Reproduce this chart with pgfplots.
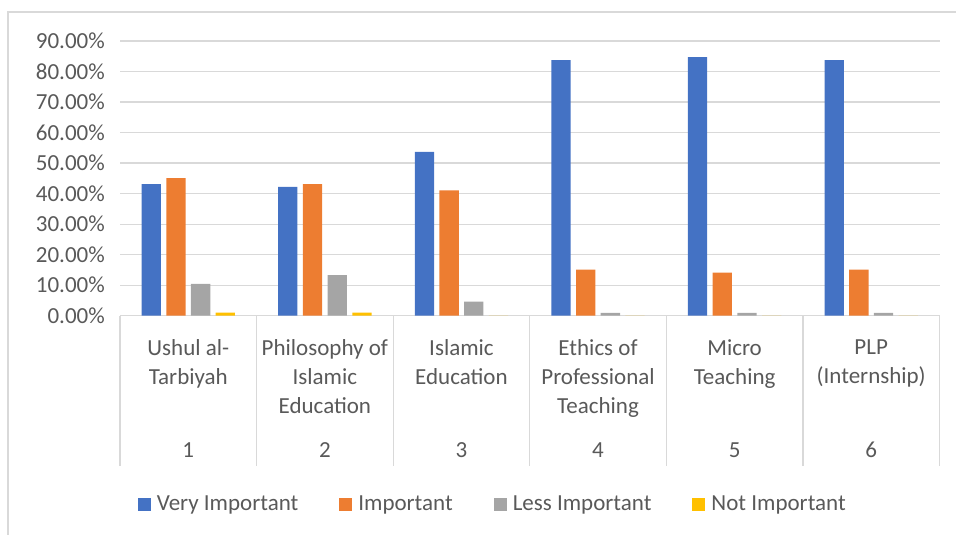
\documentclass[border=0pt]{standalone}
\usepackage{pgfplots}
\pgfplotsset{compat=1.18}
\usepackage{fontspec}
\setmainfont{Carlito}
\definecolor{cBlue}{HTML}{4472C4}
\definecolor{cOrange}{HTML}{ED7D31}
\definecolor{cGray}{HTML}{A5A5A5}
\definecolor{cYellow}{HTML}{FFC000}
\definecolor{cText}{HTML}{595959}
\definecolor{cGrid}{HTML}{D9D9D9}
\begin{document}
\fontsize{23pt}{29pt}\selectfont
\begin{tikzpicture}
\useasboundingbox (0pt,0pt) rectangle (956pt,-535pt);
\draw[cGrid, line width=1.2pt] (8pt,-535pt) -- (8pt,-12pt) -- (956pt,-12pt);
\begin{axis}[
  at={(120pt,-315.7pt)}, anchor=south west,
  scale only axis, width=819.5pt, height=274.7pt,
  xmin=-0.5, xmax=5.5, ymin=0, ymax=90,
  ybar=5.4pt, bar width=19.3pt,
  axis x line=bottom, axis y line=left,
  x axis line style={-, draw=cGrid, line width=1.2pt},
  y axis line style={draw=none},
  ymajorgrids, grid style={cGrid, line width=1.2pt},
  ytick={0,10,...,90},
  yticklabels={0.00\%,10.00\%,20.00\%,30.00\%,40.00\%,50.00\%,60.00\%,70.00\%,80.00\%,90.00\%},
  yticklabel style={text=cText, inner sep=0pt, anchor=east, xshift=-15pt},
  xtick={0,...,5},
  xticklabels={{Ushul al-\\Tarbiyah},{Philosophy of\\Islamic\\Education},{Islamic\\Education},{Ethics of\\Professional\\Teaching},{Micro\\Teaching},{PLP\\(Internship)}},
  xticklabel style={text=cText, align=center, inner sep=0pt, anchor=north, yshift=-24pt},
  extra x ticks={0,...,5},
  extra x tick labels={1,2,3,4,5,6},
  extra x tick style={grid=none, xticklabel style={anchor=base, yshift=-118pt}},
  minor xtick={-0.5,0.5,...,5.5},
  major tick length=0pt, minor tick length=150pt,
  tick align=outside,
  minor tick style={cGrid, line width=1.2pt},
  major tick style={draw=none},
  legend columns=-1,
  legend style={at={(0.4537,-0.687)}, anchor=center, draw=none, fill=none,
    inner sep=0pt, text=cText,
    nodes={inner sep=0pt},
    /tikz/every odd column/.append style={column sep=6pt},
    /tikz/every even column/.append style={column sep=41pt}},
  legend image code/.code={\fill[#1] (0pt,-6.5pt) rectangle (13pt,6.5pt);},
  clip=false,
]
\addplot[fill=cBlue, draw=none] coordinates {(0,43.1) (1,42.2) (2,53.7) (3,83.7) (4,84.7) (5,83.7)};
\addplot[fill=cOrange, draw=none] coordinates {(0,45.1) (1,43.1) (2,41.1) (3,15.1) (4,14.1) (5,15.1)};
\addplot[fill=cGray, draw=none] coordinates {(0,10.4) (1,13.3) (2,4.6) (3,0.9) (4,0.9) (5,0.9)};
\addplot[fill=cYellow, draw=none] coordinates {(0,1.0) (1,1.0) (2,0) (3,0) (4,0) (5,0)};
\legend{Very Important,Important,Less Important,Not Important}
\end{axis}
\end{tikzpicture}
\end{document}
